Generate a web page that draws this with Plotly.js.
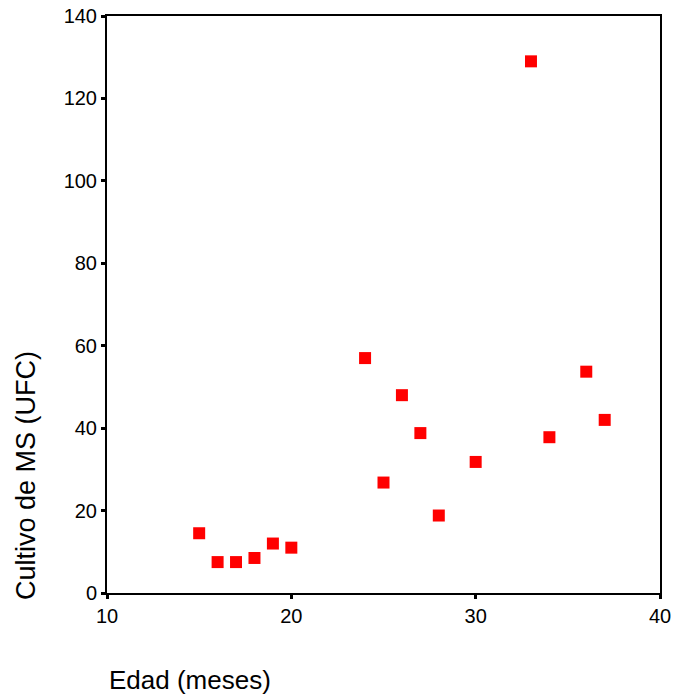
<!DOCTYPE html>
<html>
<head>
<meta charset="utf-8">
<script src="https://cdn.plot.ly/plotly-3.0.1.min.js"></script>
<style>html,body{margin:0;padding:0;background:#fff;}#chart{width:673px;height:697px;}</style>
</head>
<body>
<div id="chart"></div>
<script>
const edadMeses = [15, 16, 17, 18, 19, 20, 24, 25, 26, 27, 28, 30, 33, 34, 36, 37];
const cultivoUFC = [14.5, 7.5, 7.5, 8.5, 12, 11, 57, 26.8, 48, 38.8, 18.8, 31.8, 129, 37.8, 53.7, 42];
const xTicks = [10, 20, 30, 40];
const yTicks = [0, 20, 40, 60, 80, 100, 120, 140];
const xTitle = 'Edad (meses)';
const yTitle = 'Cultivo de MS (UFC)';

const font = 'Liberation Sans, Arial, sans-serif';
const axisCommon = {
  showgrid: false, zeroline: false, showline: true, mirror: true,
  linecolor: '#000', linewidth: 2,
  ticks: 'outside', ticklen: 4, tickwidth: 3, tickcolor: '#000',
  tickfont: {family: font, size: 20, color: '#000'}
};
const data = [{
  type: 'scatter', mode: 'markers',
  x: edadMeses, y: cultivoUFC,
  marker: {symbol: 'square', size: 12, color: '#ff0000', line: {width: 0}},
  hoverinfo: 'x+y'
}];
const layout = {
  width: 673, height: 697,
  margin: {l: 107, r: 13, t: 16, b: 104},
  paper_bgcolor: '#fff', plot_bgcolor: '#fff',
  showlegend: false,
  xaxis: Object.assign({}, axisCommon, {range: [10, 40], tickvals: xTicks, ticktext: xTicks.map(String)}),
  yaxis: Object.assign({}, axisCommon, {range: [0, 140], tickvals: yTicks, ticktext: yTicks.map(String)}),
  annotations: [
    {text: xTitle, xref: 'paper', yref: 'paper', x: 0, y: -0.151, xanchor: 'left', yanchor: 'middle',
     showarrow: false, font: {family: font, size: 26, color: '#000'}},
    {text: yTitle, xref: 'paper', yref: 'paper', x: -0.1465, y: 0.2045, xanchor: 'center', yanchor: 'middle',
     textangle: -90, showarrow: false, font: {family: font, size: 27, color: '#000'}}
  ]
};
Plotly.newPlot('chart', data, layout, {displayModeBar: false, staticPlot: true});
</script>
</body>
</html>
